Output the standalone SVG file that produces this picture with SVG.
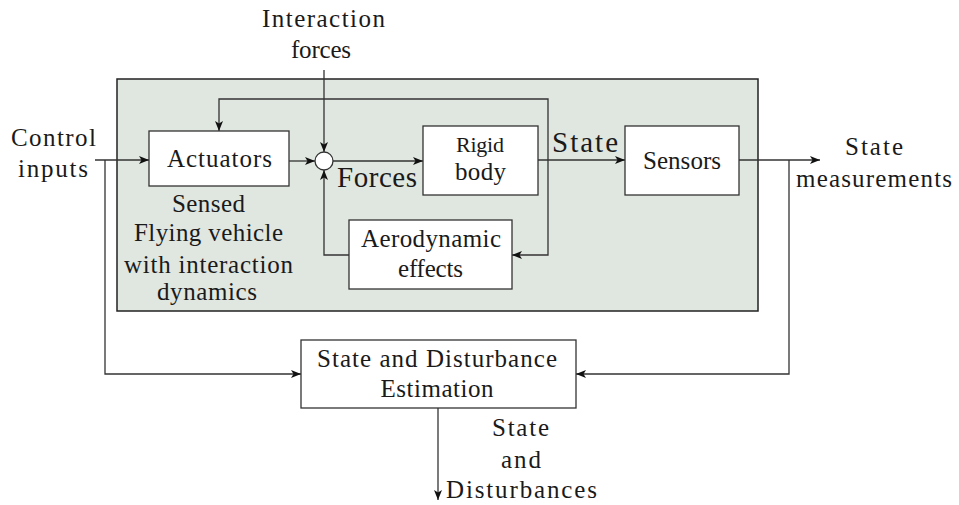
<svg xmlns="http://www.w3.org/2000/svg" width="959" height="505" viewBox="0 0 959 505">
  <defs>
    <marker id="arrow" viewBox="0 0 10 8" refX="10" refY="4" markerWidth="10" markerHeight="8" markerUnits="userSpaceOnUse" orient="auto">
      <path d="M0,0 L10,4 L0,8 L2.5,4 Z" fill="#111"/>
    </marker>
    <style>
      text { font-family: "Liberation Serif", "Times New Roman", "DejaVu Serif", serif; font-size: 25px; fill: #1a1a1a; }
      .big { font-size: 29px; }
      .small { font-size: 22px; }
      .mid { text-anchor: middle; }
      .block { fill: #ffffff; stroke: #333; stroke-width: 1.3; }
      .plant { fill: #e0e6e0; stroke: #222; stroke-width: 1.5; }
      .wire { fill: none; stroke: #333; stroke-width: 1.3; }
      .arr { marker-end: url(#arrow); }
    </style>
  </defs>

  <rect width="959" height="505" fill="#ffffff"/>

  <!-- plant enclosure -->
  <g id="plant">
    <rect class="plant" x="117" y="79" width="641" height="232"/>
    <text class="mid" x="208.5" y="212" textLength="73" lengthAdjust="spacing">Sensed</text>
    <text class="mid" x="208.5" y="241" textLength="149" lengthAdjust="spacing">Flying vehicle</text>
    <text class="mid" x="208.5" y="273" textLength="169" lengthAdjust="spacing">with interaction</text>
    <text class="mid" x="207" y="300" textLength="100" lengthAdjust="spacing">dynamics</text>
  </g>

  <!-- signal connectors -->
  <g id="connectors">
    <path class="wire arr" d="M95,160 H149"/>
    <path class="wire arr" d="M105,160 V374 H301"/>
    <path class="wire arr" d="M289,161 H315"/>
    <path class="wire arr" d="M324,70 V152"/>
    <path class="wire arr" d="M333,161 H423"/>
    <path class="wire arr" d="M538,160 H625"/>
    <path class="wire arr" d="M548,160 V99 H219 V131"/>
    <path class="wire arr" d="M548,160 V255 H512"/>
    <path class="wire arr" d="M349,255 H324 V170"/>
    <path class="wire arr" d="M739,160 H820"/>
    <path class="wire arr" d="M789,160 V374 H576"/>
    <path class="wire arr" d="M438,408 V500"/>
  </g>

  <g id="actuators">
    <rect class="block" x="149" y="131" width="140" height="55"/>
    <text class="mid" x="219.5" y="167" textLength="105" lengthAdjust="spacing">Actuators</text>
  </g>

  <g id="sum">
    <circle cx="324" cy="161" r="9" fill="#ffffff" stroke="#333" stroke-width="1.3"/>
  </g>

  <g id="rigid-body">
    <rect class="block" x="423" y="126" width="115" height="69"/>
    <text class="mid small" x="480" y="152" textLength="48" lengthAdjust="spacing">Rigid</text>
    <text class="mid" x="480.5" y="180" textLength="51" lengthAdjust="spacing">body</text>
  </g>

  <g id="aerodynamics">
    <rect class="block" x="349" y="220" width="163" height="69"/>
    <text class="mid" x="431" y="247" textLength="140" lengthAdjust="spacing">Aerodynamic</text>
    <text class="mid" x="430.5" y="277" textLength="65" lengthAdjust="spacing">effects</text>
  </g>

  <g id="sensors">
    <rect class="block" x="625" y="126" width="114" height="69"/>
    <text class="mid" x="682" y="169" textLength="78" lengthAdjust="spacing">Sensors</text>
  </g>

  <g id="estimator">
    <rect class="block" x="301" y="340" width="275" height="68"/>
    <text class="mid" x="437" y="367" textLength="240" lengthAdjust="spacing">State and Disturbance</text>
    <text class="mid" x="437" y="397" textLength="113" lengthAdjust="spacing">Estimation</text>
  </g>

  <!-- signal labels -->
  <g id="labels">
    <text class="mid" x="323.5" y="27" textLength="123" lengthAdjust="spacing">Interaction</text>
    <text class="mid" x="321" y="58" textLength="60" lengthAdjust="spacing">forces</text>
    <text x="11" y="146" textLength="85" lengthAdjust="spacing">Control</text>
    <text x="18" y="177" textLength="70" lengthAdjust="spacing">inputs</text>
    <text class="big" x="337" y="187" textLength="80" lengthAdjust="spacing">Forces</text>
    <text class="big" x="552" y="152" textLength="66" lengthAdjust="spacing">State</text>
    <text class="mid" x="874" y="155" textLength="58" lengthAdjust="spacing">State</text>
    <text class="mid" x="874" y="187" textLength="156" lengthAdjust="spacing">measurements</text>
    <text class="mid" x="520.5" y="436" textLength="57" lengthAdjust="spacing">State</text>
    <text class="mid" x="521" y="468" textLength="40" lengthAdjust="spacing">and</text>
    <text class="mid" x="521.5" y="498" textLength="151" lengthAdjust="spacing">Disturbances</text>
  </g>
</svg>
